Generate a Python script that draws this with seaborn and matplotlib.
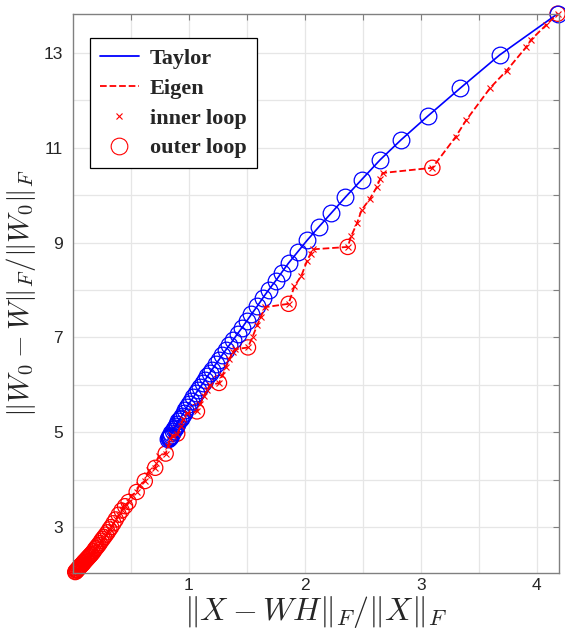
import matplotlib
matplotlib.use('Agg')
import matplotlib.pyplot as plt
from matplotlib.lines import Line2D
import numpy as np
import pandas as pd
import seaborn as sns

# Taylor curve (every iteration gets a circle)
taylor_x = [0.82, 0.825, 0.83, 0.835, 0.84, 0.845, 0.85, 0.86, 0.87, 0.88, 0.89, 0.90,
            0.91, 0.92, 0.93, 0.94, 0.955, 0.97, 0.985, 1.00, 1.02, 1.04, 1.06, 1.08, 1.10,
            1.12, 1.14, 1.16, 1.18, 1.20, 1.23, 1.26, 1.29, 1.32, 1.35, 1.38, 1.42, 1.46,
            1.50, 1.54, 1.59, 1.64, 1.69, 1.75, 1.80, 1.86, 1.94, 2.02, 2.12, 2.23, 2.35,
            2.49, 2.65, 2.83, 3.06, 3.34, 3.68, 4.18]
taylor_y = [4.85, 4.87, 4.89, 4.91, 4.93, 4.95, 4.98, 5.02, 5.06, 5.10, 5.14, 5.18,
            5.23, 5.27, 5.31, 5.35, 5.41, 5.47, 5.54, 5.60, 5.67, 5.74, 5.82, 5.89, 5.96,
            6.03, 6.10, 6.18, 6.25, 6.32, 6.43, 6.53, 6.64, 6.74, 6.84, 6.94, 7.08, 7.21,
            7.35, 7.49, 7.66, 7.84, 8.01, 8.20, 8.37, 8.57, 8.81, 9.05, 9.33, 9.63, 9.96,
            10.33, 10.75, 11.17, 11.67, 12.26, 12.96, 13.83]

# Eigen: outer loop points (circles)
outer_x = [0.02, 0.025, 0.03, 0.035, 0.04, 0.045, 0.05, 0.055, 0.06, 0.065, 0.07, 0.075,
           0.08, 0.085, 0.09, 0.095, 0.10, 0.107, 0.115, 0.122, 0.13, 0.137, 0.145, 0.152,
           0.16, 0.17, 0.18, 0.19, 0.20, 0.21, 0.22, 0.232, 0.245, 0.257, 0.27, 0.285,
           0.30, 0.315, 0.33, 0.35, 0.37, 0.395, 0.42, 0.45, 0.48, 0.55, 0.62, 0.71, 0.80,
           0.90, 1.07, 1.26, 1.51, 1.86, 2.37, 3.10, 4.18]
outer_y = [2.05, 2.06, 2.08, 2.09, 2.10, 2.12, 2.13, 2.15, 2.16, 2.18, 2.19, 2.20,
           2.21, 2.23, 2.24, 2.26, 2.27, 2.29, 2.31, 2.33, 2.35, 2.37, 2.39, 2.41,
           2.43, 2.46, 2.49, 2.53, 2.56, 2.59, 2.62, 2.66, 2.71, 2.75, 2.79, 2.84,
           2.89, 2.95, 3.00, 3.08, 3.16, 3.26, 3.35, 3.44, 3.53, 3.74, 3.97, 4.25, 4.55,
           4.97, 5.44, 6.04, 6.79, 7.71, 8.91, 10.58, 13.83]

# Eigen: inner loop points in between
inner_x = [0.44, 0.50, 0.57, 0.64, 0.66, 0.72, 0.74, 0.82, 0.84, 0.86, 0.93, 0.95, 0.98,
           1.10, 1.13, 1.16, 1.18, 1.29, 1.32, 1.35, 1.38, 1.40, 1.55, 1.59, 1.62, 1.66,
           1.91, 1.97, 2.02, 2.05, 2.07, 2.40, 2.45, 2.49, 2.56, 2.62, 2.65, 2.67,
           3.30, 3.39, 3.60, 3.74, 3.91, 3.95, 4.08]
inner_y = [3.47, 3.66, 3.88, 4.10, 4.20, 4.35, 4.50, 4.70, 4.85, 4.93, 5.13, 5.27, 5.40,
           5.60, 5.76, 5.90, 5.99, 6.20, 6.38, 6.55, 6.70, 6.75, 7.02, 7.26, 7.44, 7.64,
           8.08, 8.30, 8.62, 8.77, 8.86, 9.14, 9.41, 9.69, 9.92, 10.17, 10.35, 10.47,
           11.23, 11.58, 12.27, 12.63, 13.13, 13.28, 13.59]

taylor = pd.DataFrame({'x': taylor_x, 'y': taylor_y})
outer = pd.DataFrame({'x': outer_x, 'y': outer_y})
eigen = pd.concat([outer, pd.DataFrame({'x': inner_x, 'y': inner_y})]).sort_values('x')

sns.set_style('white')
plt.rcParams['font.family'] = ['Liberation Sans', 'DejaVu Sans']
plt.rcParams['mathtext.fontset'] = 'cm'

fig = plt.figure(figsize=(5.65, 6.35), dpi=100)
ax = fig.add_axes([0.129, 0.0976, 0.86, 0.88])

sns.lineplot(data=taylor, x='x', y='y', ax=ax, color='blue', lw=1.2, marker='o',
             markersize=12, markerfacecolor='none', markeredgecolor='blue',
             markeredgewidth=0.9, sort=False, estimator=None, clip_on=False)
sns.lineplot(data=eigen, x='x', y='y', ax=ax, color='red', lw=1.3, linestyle='--',
             marker='x', markersize=4.5, markeredgecolor='red', markeredgewidth=0.8,
             sort=False, estimator=None, clip_on=False)
sns.scatterplot(data=outer, x='x', y='y', ax=ax, marker='o', s=120, facecolors='none',
                edgecolor='red', linewidth=0.9, clip_on=False)

ax.set_xlim(0, 4.19)
ax.set_ylim(2.03, 13.82)
ax.set_xticks(np.arange(0.5, 4.01, 0.5))
ax.set_xticklabels(['', '1', '', '2', '', '3', '', '4'])
ax.set_yticks(np.arange(3, 14))
ax.set_yticklabels([str(v) if v % 2 == 1 else '' for v in range(3, 14)])
ax.grid(True, color='#e6e6e6', lw=0.9)
ax.tick_params(direction='in', length=4, color='#808080', labelsize=12.5,
               labelcolor='#262626', top=True, right=True)
ax.tick_params(axis='y', pad=7)
for s in ax.spines.values():
    s.set_color('#808080')
    s.set_linewidth(1)

ax.set_xlabel(r'$\|X-WH\|_F/\|X\|_F$', fontsize=23, color='#262626', labelpad=1)
ax.set_ylabel(r'$\|W_0-W\|_F/\|W_0\|_F$', fontsize=21, color='#262626', labelpad=4)

handles = [
    Line2D([], [], color='blue', lw=1.3),
    Line2D([], [], color='red', lw=1.3, linestyle='--'),
    Line2D([], [], color='red', lw=0, marker='x', markersize=5, markeredgewidth=0.8),
    Line2D([], [], color='red', lw=0, marker='o', markersize=12, markerfacecolor='none',
           markeredgewidth=0.8),
]
leg = ax.legend(handles, ['Taylor', 'Eigen', 'inner loop', 'outer loop'],
                loc='upper left', bbox_to_anchor=(0.035, 0.957), borderaxespad=0,
                prop={'family': 'Liberation Serif', 'weight': 'bold', 'size': 16},
                fancybox=False, framealpha=1, edgecolor='black', handlelength=1.75,
                handletextpad=0.5, labelspacing=0.42, borderpad=0.45)
leg.get_frame().set_linewidth(0.9)

fig.savefig('out.png', dpi=100)
